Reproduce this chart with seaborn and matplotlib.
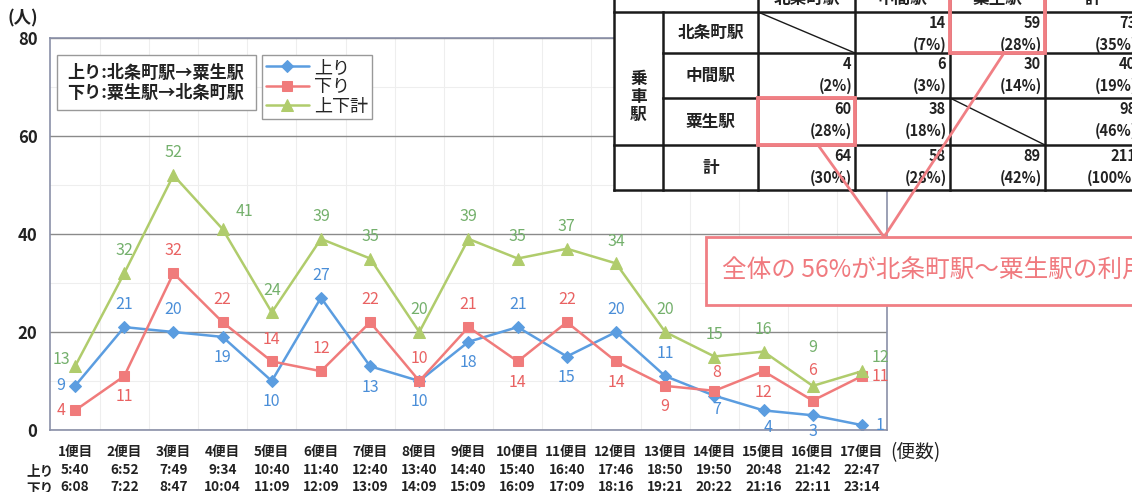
import matplotlib
matplotlib.use("Agg")
import matplotlib.pyplot as plt
import seaborn as sns
from matplotlib.patches import Rectangle

# ---- data ----
flights = ['1便目', '2便目', '3便目', '4便目', '5便目', '6便目', '7便目', '8便目', '9便目',
           '10便目', '11便目', '12便目', '13便目', '14便目', '15便目', '16便目', '17便目']
up_times = ['5:40', '6:52', '7:49', '9:34', '10:40', '11:40', '12:40', '13:40', '14:40',
            '15:40', '16:40', '17:46', '18:50', '19:50', '20:48', '21:42', '22:47']
down_times = ['6:08', '7:22', '8:47', '10:04', '11:09', '12:09', '13:09', '14:09', '15:09',
              '16:09', '17:09', '18:16', '19:21', '20:22', '21:16', '22:11', '23:14']
up = [9, 21, 20, 19, 10, 27, 13, 10, 18, 21, 15, 20, 11, 7, 4, 3, 1]
down = [4, 11, 32, 22, 14, 12, 22, 10, 21, 14, 22, 14, 9, 8, 12, 6, 11]
total = [13, 32, 52, 41, 24, 39, 35, 20, 39, 35, 37, 34, 20, 15, 16, 9, 12]

# OD table (乗車駅 x 降車駅)
stations = ['北条町駅', '中間駅', '粟生駅', '計']
od_counts = [[None, 14, 59, 73],
             [4, 6, 30, 40],
             [60, 38, None, 98],
             [64, 58, 89, 211]]
od_pct = [[None, '7%', '28%', '35%'],
          ['2%', '3%', '14%', '19%'],
          ['28%', '18%', None, '46%'],
          ['30%', '28%', '42%', '100%']]
callout_text = '全体の 56%が北条町駅～粟生駅の利用'

# label placement for each point: a=above, b=below, l=left, r=right
up_pos = list('laabbabbbabaabbbr')
down_pos = list('lbaaaaaaababbabar')
total_pos = list('laaaaaaaaaaaaaaar')
# a few hand-tuned offsets (points) where labels crowd
special_off = {('上り', 13): (2, -10), ('上り', 14): (3, -12), ('上り', 15): (0, -12),
               ('下り', 15): (0, 22), ('上下計', 15): (0, 28),
               ('上下計', 0): (-10, 5), ('上下計', 16): (13, 10), ('上下計', 3): (16, 13),
               ('下り', 13): (2, 13)}

sns.set_theme(style="white")
plt.rcParams['font.family'] = ['Noto Sans CJK JP', 'DejaVu Sans']

W, H = 1132, 492
fig = plt.figure(figsize=(W / 100, H / 100), dpi=100)
ax = fig.add_axes([50 / W, (H - 430) / H, 837 / W, 392 / H])

blue, red, green = '#5b9de0', '#f07b7b', '#b0cc6c'
lblue, lred, lgreen = '#4a8ed8', '#e96262', '#74b06c'

xs = list(range(len(flights)))
series = [('上り', up, blue, lblue, 'D', 6.5, up_pos),
          ('下り', down, red, lred, 's', 7.5, down_pos),
          ('上下計', total, green, lgreen, '^', 8, total_pos)]

for name, vals, col, lcol, mk, ms, pos in series:
    sns.lineplot(x=xs, y=vals, color=col, marker=mk, markersize=ms, markeredgecolor=col,
                 linewidth=1.8, label=name, ax=ax, sort=False)

for name, vals, col, lcol, mk, ms, pos in series:
    for x, v, p in zip(xs, vals, pos):
        off = {'a': (0, 16), 'b': (0, -15), 'l': (-10, 0), 'r': (13, 0)}[p]
        off = special_off.get((name, x), off)
        ax.annotate(str(v), (x, v), xytext=off, textcoords='offset points',
                    ha='center', va='center', fontsize=11.5, color=lcol,
                    annotation_clip=False)

ax.set_xlim(-0.51, len(flights) - 0.49)
ax.set_ylim(0, 80)
ax.set_yticks([0, 20, 40, 60, 80])
ax.set_yticklabels(['0', '20', '40', '60', '80'], fontsize=12, fontweight='bold', color='#222')
ax.set_xticks(xs)
ax.set_xticklabels([f'{f}\n{u}\n{d}' for f, u, d in zip(flights, up_times, down_times)],
                   fontsize=9.8, fontweight='bold', color='#222', linespacing=1.3)
ax.set_xticks([x + 0.5 for x in xs[:-1]], minor=True)
ax.set_yticks(range(0, 81, 10), minor=True)
ax.tick_params(axis='x', which='major', length=0, pad=11)
ax.tick_params(axis='y', which='major', length=0, pad=9)
ax.tick_params(axis='both', which='minor', direction='in', length=3, color='#999')
ax.grid(True, which='minor', color='#eeeeee', linewidth=0.8)
ax.grid(True, which='major', axis='y', color='#8a8a8a', linewidth=1.0)
ax.grid(False, which='major', axis='x')
for s in ax.spines.values():
    s.set_color('#8a90a8')
    s.set_linewidth(1.2)
ax.set_xlabel('')
ax.set_ylabel('')

ax.legend(loc='upper left', bbox_to_anchor=(0.2533, 0.9566), frameon=True, fancybox=False,
          edgecolor='#999999', fontsize=13, handlelength=2.4, labelspacing=0.08,
          borderpad=0.2, handletextpad=0.3, borderaxespad=0, framealpha=1)
ax.legend_.get_frame().set_linewidth(1.0)

# ---- overlay in pixel coordinates ----
ov = fig.add_axes([0, 0, 1, 1], zorder=10)
ov.set_xlim(0, W)
ov.set_ylim(H, 0)
ov.axis('off')
ov.patch.set_alpha(0)

ov.text(23, 18, '(人)', ha='center', va='center', fontsize=12.5, fontweight='bold', color='#222')
ov.text(915, 453, '(便数)', ha='center', va='center', fontsize=13.5, color='#222')
ov.text(40, 471, '上り', ha='center', va='center', fontsize=9.8, fontweight='bold', color='#222')
ov.text(40, 489, '下り', ha='center', va='center', fontsize=9.8, fontweight='bold', color='#222')

# direction note box
ov.add_patch(Rectangle((57, 55), 199, 55, facecolor='white', edgecolor='#999999', lw=1.0))
ov.text(67, 73, '上り:北条町駅→粟生駅', ha='left', va='center', fontsize=12.3, fontweight='bold', color='#222')
ov.text(67, 93, '下り:粟生駅→北条町駅', ha='left', va='center', fontsize=12.3, fontweight='bold', color='#222')

# table
cx = [614, 663, 758, 855, 950, 1045, 1140]
ry = [-30, 12, 53, 98, 145, 190]
ov.add_patch(Rectangle((cx[0], ry[0]), cx[-1] - cx[0], ry[-1] - ry[0], facecolor='white',
                       edgecolor='none'))
lk = dict(color='#1a1a1a', lw=1.8, solid_capstyle='projecting')
ov.plot([cx[0], cx[0]], [ry[0], ry[-1]], **lk)
ov.plot([cx[0], cx[-1]], [ry[-1], ry[-1]], **lk)
ov.plot([cx[0], cx[-1]], [ry[1], ry[1]], **lk)
ov.plot([cx[0], cx[-1]], [ry[4], ry[4]], **lk)
for y in ry[2:4]:
    ov.plot([cx[1], cx[-1]], [y, y], **lk)
ov.plot([cx[1], cx[1]], [ry[1], ry[-1]], **lk)
for x in cx[2:6]:
    ov.plot([x, x], [ry[0], ry[-1]], **lk)

for j, name in enumerate(stations):
    ov.text((cx[j + 2] + cx[j + 3]) / 2, ry[1] - 13, name, ha='center', va='center',
            fontsize=12, fontweight='bold', color='#222')
for i, name in enumerate(stations):
    ov.text((cx[1] + cx[2]) / 2, (ry[i + 1] + ry[i + 2]) / 2, name, ha='center', va='center',
            fontsize=12, fontweight='bold', color='#222')
ov.text((cx[0] + cx[1]) / 2, 97, '乗\n車\n駅', ha='center', va='center', fontsize=12,
        fontweight='bold', color='#222', linespacing=1.0)

for i in range(4):
    for j in range(4):
        x1, x2 = cx[j + 2], cx[j + 3]
        y1, y2 = ry[i + 1], ry[i + 2]
        if od_counts[i][j] is None:
            ov.plot([x1, x2], [y1, y2], color='#1a1a1a', lw=1.0)
            continue
        ov.text(x2 - 4, y1 + 11, str(od_counts[i][j]), ha='right', va='center',
                fontsize=10.5, fontweight='bold', color='#222')
        ov.text(x2 - 3, y1 + 33, f'({od_pct[i][j]})', ha='right', va='center',
                fontsize=10.5, fontweight='bold', color='#222')

pink = '#f07f84'
ov.add_patch(Rectangle((950, -5), 95, 58, facecolor='none', edgecolor=pink, lw=2.8, zorder=6))
ov.add_patch(Rectangle((758, 98), 97, 47, facecolor='none', edgecolor=pink, lw=2.8, zorder=6))
ov.plot([818, 884], [145, 237], color=pink, lw=2, zorder=6)
ov.plot([1004, 884], [53, 237], color=pink, lw=2, zorder=6)

ov.add_patch(Rectangle((706, 237), 440, 68, facecolor='white', edgecolor=pink, lw=2, zorder=7))
ov.text(722, 271, callout_text, ha='left', va='center', fontsize=17.7, color='#f07a7f', zorder=8)

fig.savefig('out.png', dpi=100)
